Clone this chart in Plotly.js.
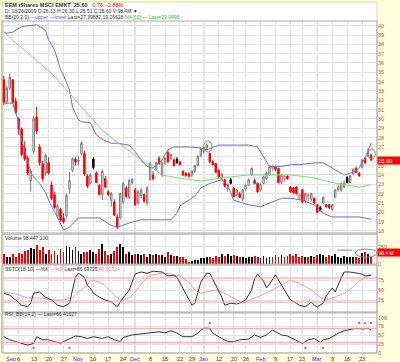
<!DOCTYPE html>
<html><head><meta charset="utf-8">
<script src="https://cdn.plot.ly/plotly-3.0.1.min.js"></script>
<style>html,body{margin:0;padding:0;background:#ffffdd;}#chart{width:400px;height:362px;}</style>
</head><body><div id="chart"></div>
<script>
// ---- x axis (trading-day index) ----
const weekIdx = [0,5,10,15,20,25,30,35,40,44,49,54,59,63,67,72,77,81,86,91,96,100,105,110,115,120];
const weekLbl = ["Sep","6","13","20","27","Nov","10","17","24","Dec","8","15","22","29","Jan","12","20","26","Feb","9","17","23","Mar","9","16","23"];
const monthIdx = [25,44,67,86,105];

// ---- price axis labels ----
const priceTicks = [18,19,20,21,22,23,24,25,26,27,28,29,30,31,32,33,34,35,36,37,38,39,40];

// ---- price OHLC ----
const open  = [34.2,31.9,33.3,34.2,31.9,30.0,28.9,26.9,25.8,23.4,26.5,30.2,27.0,25.2,24.2,25.3,22.9,21.9,19.6,20.3,19.4,19.6,22.5,24.5,25.7,25.5,26.3,26.3,23.9,23.1,25.7,24.2,22.9,21.9,23.6,22.2,21.3,21.1,19.5,19.4,21.1,22.6,21.6,23.2,22.4,21.0,21.8,21.9,21.0,23.5,24.0,24.6,25.8,24.0,25.3,26.4,25.8,25.6,25.7,25.4,24.4,24.2,24.1,24.0,24.4,25.0,26.1,26.6,26.9,26.3,25.4,25.2,24.5,23.6,23.5,22.5,23.5,22.6,21.9,22.0,21.4,22.5,22.9,24.0,23.4,23.1,22.4,23.1,23.6,24.0,24.7,24.9,24.7,23.2,23.6,23.9,22.7,22.6,22.7,21.5,22.4,21.2,21.6,21.4,21.5,20.8,20.5,21.0,20.8,20.8,20.3,21.6,22.4,22.4,22.7,23.7,23.2,24.1,24.7,24.2,24.8,25.8,26.0,26.13];
const high  = [34.6,33.6,34.9,34.3,32.3,30.2,29.1,27.6,26.0,24.6,30.3,31.3,27.3,25.5,26.3,25.9,23.3,22.2,20.9,20.5,19.9,22.0,24.3,25.9,25.9,26.0,27.6,26.6,24.1,24.2,25.9,24.4,23.0,24.6,23.9,22.4,22.2,21.4,19.8,22.1,23.3,22.8,23.6,23.7,22.6,22.4,22.6,22.0,22.8,25.4,24.4,25.4,26.0,25.4,25.9,26.6,26.3,25.8,25.9,25.5,24.5,24.3,24.3,24.5,25.1,26.1,26.9,27.0,27.4,26.4,25.6,25.3,24.6,24.2,23.6,23.1,23.7,22.7,22.5,22.2,22.5,23.0,23.6,24.8,23.6,23.2,23.1,23.9,24.3,25.0,25.1,25.0,24.8,24.1,24.0,24.0,22.8,22.7,22.8,22.0,22.5,22.1,22.1,22.1,21.6,20.9,20.7,21.7,20.9,20.9,20.9,22.5,22.8,23.2,23.4,23.9,24.0,24.7,24.9,24.3,25.7,25.9,26.9,26.30];
const low   = [31.5,31.6,33.1,31.6,30.5,28.3,26.0,25.5,24.0,22.2,26.3,28.4,25.0,23.3,23.9,24.0,21.3,20.4,19.3,19.0,18.8,19.4,22.0,24.3,25.0,25.0,26.1,23.9,22.6,23.0,24.6,23.1,21.8,21.3,22.6,21.7,20.6,19.6,18.2,19.2,20.9,21.5,21.4,23.0,20.7,20.8,21.5,21.0,20.7,23.4,23.4,24.5,25.1,23.8,25.1,25.3,25.6,24.9,25.2,25.0,23.9,23.8,23.7,23.8,24.2,24.9,25.9,26.3,26.6,25.3,25.0,24.2,23.7,23.5,22.7,22.2,23.0,21.6,21.7,21.5,21.2,22.3,22.8,23.9,23.0,22.1,22.2,23.0,23.5,23.9,24.4,24.4,23.1,23.0,23.2,23.5,22.1,22.0,21.9,21.3,21.0,21.0,21.2,21.2,20.9,19.9,20.1,20.9,20.5,20.3,20.2,21.5,22.2,22.2,22.6,23.1,23.1,24.0,24.2,23.8,24.7,25.2,25.9,25.51];
const close = [31.8,33.3,34.5,31.8,30.7,28.9,26.2,25.7,24.2,24.4,30.0,28.7,25.3,23.6,26.1,24.2,21.5,20.5,20.7,19.2,19.0,21.8,23.4,25.7,25.4,25.6,27.4,24.1,22.8,24.0,24.8,23.2,21.9,24.4,22.7,21.9,22.0,19.7,18.4,22.0,23.1,21.7,23.4,23.5,20.8,22.2,22.4,21.2,22.6,25.2,23.6,25.3,25.2,25.3,25.8,25.4,26.2,25.0,25.3,25.1,24.0,23.95,23.9,24.4,25.0,26.0,26.8,26.9,27.2,25.4,25.1,24.3,23.8,24.1,22.8,23.0,23.1,21.7,22.4,21.6,22.4,22.9,23.5,24.7,23.1,22.2,23.0,23.8,24.2,24.9,24.8,24.6,23.2,24.0,23.9,23.6,22.2,22.1,22.0,21.9,21.1,22.0,21.9,22.0,21.0,20.0,20.2,21.6,20.6,20.5,20.8,22.4,22.7,23.1,23.1,23.2,23.9,24.6,24.3,23.9,25.6,25.3,26.36,25.60];

// ---- volume (millions) ----
const volume = [150,105,100,150,105,160,140,185,195,230,218,277,205,240,150,195,150,186,127,218,173,264,250,195,250,186,150,173,173,195,173,150,218,287,186,127,150,186,250,287,250,150,173,127,140,150,127,140,105,140,127,140,127,127,105,173,127,114,114,105,95,68,36,50,59,59,82,
82,105,95,82,114,95,140,114,150,114,127,114,95,105,82,105,95,114,95,82,114,82,105,105,127,95,127,105,114,140,114,140,105,114,95,95,114,105,127,140,127,95,127,114,140,95,82,114,105,95,105,95,82,160,173,150,98.4];

// ---- overlays ----
const bbUpX = [0,1,3,6,11,14,15,17,19,20,22,23,25,26,29,31,33,36,38,42,44,46,48,50,53,55,57,62,66,68,72,82,85,87,89,93,96,99,104,107,110,114,117,119,121,123];
const bbUp  = [39.3,39.2,39.3,39.9,40.1,39.5,38.5,37.4,35.3,34.7,33.1,31.3,29.9,29.7,29.6,28.3,27.8,27.4,27.4,27.2,26.5,25.6,24.9,24.75,25.6,26.7,27.0,27.0,26.9,26.7,27.2,27.2,27.0,25.9,24.9,24.9,25.1,25.1,25.3,25.3,24.75,24.0,24.3,24.75,25.8,27.4];
const bbLoX = [0,3,4,5,6,9,10,12,14,16,18,20,22,25,28,32,34,36,38,42,46,53,56,58,59,62,64,66,69,73,75,77,82,86,89,93,96,100,104,107,110,115,119,123];
const bbLo  = [31.7,31.7,30.7,29.6,27.75,24.3,23.8,23.1,22.1,20.6,19.5,18.1,18.4,19.4,19.4,19.4,19.0,18.6,18.4,18.85,19.2,19.2,19.2,19.9,20.7,21.3,21.75,22.6,23.1,23.5,22.9,21.3,20.8,20.6,21.0,21.5,21.5,21.3,20.8,19.9,19.5,19.5,19.5,19.27];
const maX   = [0,3,16,33,37,44,49,53,58,62,66,73,82,90,96,104,109,115,119,123];
const ma50  = [39.35,38.45,34.9,28.8,27.75,26.1,24.85,24.0,23.7,23.5,23.35,23.7,24.0,24.0,24.0,23.7,23.25,22.9,22.7,22.95];

const kX = [0,2,4,6,8,9,10,12,14,16,18,20,22,23,24,25,27,28,29,30,32,34,36,38,39,42,43,44,46,48,50,53,55,57,58,60,62,63,64,65,66,68,69,71,73,74,76,78,79,81,83,84,85,87,88,89,91,92,94,96,98,99,101,103,104,105,107,108,110,111,113,114,116,118,120,121,123];
const kVal = [42,37,25,12,8,17,42,45,32,25,12,8,17,50,82,92,82,62,55,42,32,25,20,8,20,50,70,90,95,92,97,95,85,87,82,55,25,12,17,42,70,92,92,62,32,12,17,15,17,25,50,78,90,72,55,65,88,75,50,25,17,12,8,20,12,8,17,35,55,45,80,95,95,92,90,85,86.7];
const dX = [0,4,8,13,16,20,23,25,28,29,32,34,36,38,40,42,44,46,48,50,53,56,59,62,64,66,68,71,74,77,80,84,88,93,96,99,103,106,108,110,114,117,119,122,123];
const dVal = [45,40,30,30,25,25,30,45,62,75,70,60,45,30,25,30,45,65,80,88,92,90,85,70,50,42,45,50,42,30,17,30,42,62,75,67,50,32,25,30,42,57,72,87,89.9];

const rsiX = [0,2,4,6,8,10,11,13,15,17,19,20,22,24,26,28,30,33,35,37,39,40,43,45,47,49,52,54,56,58,60,63,65,66,67,69,70,73,75,77,79,82,84,86,88,90,93,95,97,99,100,102,104,106,107,109,112,114,116,118,120,122,123];
const rsiVal = [46,37,32,27,22,27,46,37,37,32,27,32,41,48,46,41,46,41,46,37,32,44,51,53,56,57,60,57,63,56,46,46,56,65,70,70,56,41,32,32,37,39,51,44,51,65,51,48,39,32,27,37,41,29,37,41,56,63,67,70,68,70,66.4];
const rsiHiX = [69,119,121,123];
const rsiLoX = [10,22,101,107];

// ---- build ----
const N = close.length;
const xs = close.map((_, i) => i);
const upI = [], dnI = [];
for (let i = 0; i < N; i++) {
  const prev = i ? close[i-1] : open[i];
  (close[i] >= prev ? upI : dnI).push(i);
}
function candle(ids, incLine, decLine, decFill) {
  return {type:'candlestick', x:ids, open:ids.map(i=>open[i]), high:ids.map(i=>high[i]),
    low:ids.map(i=>low[i]), close:ids.map(i=>close[i]),
    increasing:{line:{color:incLine,width:1}, fillcolor:'#ffffff'},
    decreasing:{line:{color:decLine,width:1}, fillcolor:decFill},
    whiskerwidth:0, xaxis:'x', yaxis:'y', hoverinfo:'skip'};
}
const volColors = xs.map(i => (close[i] >= (i ? close[i-1] : open[i])) ? '#000000' : '#ff0000');

const traces = [
  {x:bbUpX, y:bbUp, type:'scatter', mode:'lines', line:{color:'#7070b8', width:1}, yaxis:'y', hoverinfo:'skip'},
  {x:bbLoX, y:bbLo, type:'scatter', mode:'lines', line:{color:'#7070b8', width:1}, yaxis:'y', hoverinfo:'skip'},
  {x:maX, y:ma50, type:'scatter', mode:'lines', line:{color:'#7ddc7d', width:1}, yaxis:'y', hoverinfo:'skip'},
  candle(upI, '#7a7a7a', '#000000', '#000000'),
  candle(dnI, '#ff7777', '#ff0000', '#ff0000'),
  {x:xs, y:volume, type:'bar', marker:{color:volColors}, width:0.62, yaxis:'y2', hoverinfo:'skip'},
  {x:dX, y:dVal, type:'scatter', mode:'lines', line:{color:'#ff9a9a', width:1}, yaxis:'y3', hoverinfo:'skip'},
  {x:kX, y:kVal, type:'scatter', mode:'lines', line:{color:'#333333', width:1}, yaxis:'y3', hoverinfo:'skip'},
  {x:rsiX, y:rsiVal, type:'scatter', mode:'lines', line:{color:'#333333', width:1}, yaxis:'y4', hoverinfo:'skip'},
  {x:rsiHiX, y:rsiHiX.map(()=>85), type:'scatter', mode:'markers', marker:{symbol:'triangle-up', size:3, color:'#ff3333'}, yaxis:'y4', hoverinfo:'skip'},
  {x:rsiLoX, y:rsiLoX.map(()=>14), type:'scatter', mode:'markers', marker:{symbol:'square', size:2, color:'#22cc22'}, yaxis:'y4', hoverinfo:'skip'}
];

const FONT = 'Liberation Sans, Arial, sans-serif';
const axisFont = {family:FONT, size:5.5, color:'#d05050'};
const dom = {price:[0.3614,1], vol:[0.268,0.358], sto:[0.1235,0.265], rsi:[0,0.1205]};
function yax(d, range, extra) {
  return Object.assign({domain:d, range:range, side:'right', anchor:'x', showgrid:true, gridcolor:'#e2e2e2',
    gridwidth:1, zeroline:false, showline:false, ticks:'', tickfont:axisFont, fixedrange:true}, extra);
}

const shapes = [
  {type:'rect', xref:'paper', yref:'paper', x0:0, x1:1, y0:0, y1:1.057, fillcolor:'#ffffff', line:{color:'#d8d8b0', width:1}, layer:'below'}
];
monthIdx.forEach(m => shapes.push({type:'line', xref:'x', yref:'paper', x0:m, x1:m, y0:0, y1:1, line:{color:'#b4b4b4', width:1}, layer:'below'}));
Object.values(dom).forEach(d => shapes.push({type:'rect', xref:'paper', yref:'paper', x0:0, x1:1, y0:d[0], y1:d[1], line:{color:'#a8a8a8', width:1}, fillcolor:'rgba(0,0,0,0)'}));
[[80,'y3'],[20,'y3'],[70,'y4'],[30,'y4']].forEach(([v,ax]) => shapes.push({type:'line', xref:'paper', yref:ax, x0:0, x1:1, y0:v, y1:v, line:{color:'#ff9999', width:1}}));
// hand-drawn marks from the chart
shapes.push({type:'circle', xref:'x', yref:'y', x0:67.0, x1:69.7, y0:26.45, y1:27.65, line:{color:'#888888', width:1}});
shapes.push({type:'circle', xref:'x', yref:'y', x0:122.0, x1:124.4, y0:25.7, y1:26.8, line:{color:'#888888', width:1}});
shapes.push({type:'circle', xref:'x', yref:'y2', x0:117.7, x1:125.0, y0:100, y1:215, line:{color:'#888888', width:1}});
shapes.push({type:'line', xref:'x', yref:'y2', x0:111.7, x1:116.7, y0:200, y1:200, line:{color:'#888888', width:1}});

const P = px => (353 - px) / 332;
const ann = [];
weekIdx.forEach((w, k) => {
  const isMonth = isNaN(Number(weekLbl[k]));
  ann.push({x:w, xref:'x', y:0, yref:'paper', yanchor:'top', yshift:-1, xanchor: k===0 ? 'left' : 'center',
    text:weekLbl[k], showarrow:false, font:{family:FONT, size:5.5, color: isMonth ? '#2a2ad0' : '#333333'}});
});
const txt = (y, t, size) => ({x:0, xref:'paper', y:P(y), yref:'paper', xanchor:'left', yanchor:'middle', xshift:1,
  text:t, showarrow:false, align:'left', font:{family:FONT, size:size||5, color:'#333333'}});
ann.push(txt(5, '<b>EEM iShares MSCI EMKT</b>\u00a0\u00a0<b>25.60</b>\u00a0\u00a0<span style="color:#ff0000">-0.76\u00a0\u00a0-2.88%</span>', 5.5));
ann.push(txt(11, 'D: 03/26/2009 O:26.13 H:26.30 L:25.51 C:25.60 V:98.4M \u25bc'));
ann.push(txt(17, 'BB(20,2.0) <span style="color:#6060b0">\u2014upper \u2014lower</span> Last=27.39882;19.26618 <span style="color:#33bb33">MA(50) \u2014 Last=22.9496</span>'));
ann.push(txt(237.5, 'Volume 98,447,100'));
ann.push(txt(268.5, 'SSTO(18,10) \u2014%K <span style="color:#ff8080">\u2014%D</span> Last=86.69725;<span style="color:#ff8080">89.90724</span>'));
ann.push(txt(313.5, 'RSI_BB(14,2) \u2014 Last=66.41627'));
// last-value boxes (the price box sits over the "26" label, as in the reference)
ann.push({x:1, xref:'paper', y:close[N-1], yref:'y', xanchor:'left', yanchor:'middle', text:'25.60', showarrow:false,
  bgcolor:'#ff0000', borderpad:0.5, width:21, align:'left', font:{family:FONT, size:5.5, color:'#ffffff'}});
ann.push({x:1, xref:'paper', y:volume[N-1], yref:'y2', xanchor:'left', yanchor:'bottom', text:'98.4 M', showarrow:false,
  bgcolor:'#ff0000', borderpad:0.5, width:21, align:'left', font:{family:FONT, size:5, color:'#ffffff'}});

const layout = {
  width:400, height:362, margin:{l:2, r:23, t:21, b:9, pad:0},
  paper_bgcolor:'#ffffdd', plot_bgcolor:'#ffffff', showlegend:false,
  font:{family:FONT, size:5, color:'#333'},
  xaxis:{range:[-0.6,125], tickvals:weekIdx, showticklabels:false, ticks:'', showgrid:true, gridcolor:'#e2e2e2',
    zeroline:false, showline:false, rangeslider:{visible:false}, anchor:'y4', fixedrange:true},
  yaxis: yax(dom.price, [17.78,40.5], {tickvals:priceTicks, ticktext:priceTicks.map(v => v === 26 ? '' : String(v))}),
  yaxis2: yax(dom.vol, [0,430], {tickvals:[0,250], ticktext:['0','250']}),
  yaxis3: yax(dom.sto, [-5,112.5], {tickvals:[25,50,75]}),
  yaxis4: yax(dom.rsi, [-0.6,113.7], {tickvals:[0,25,50,75,100]}),
  shapes:shapes, annotations:ann, bargap:0
};
Plotly.newPlot('chart', traces, layout, {displayModeBar:false, staticPlot:true});
</script></body></html>
